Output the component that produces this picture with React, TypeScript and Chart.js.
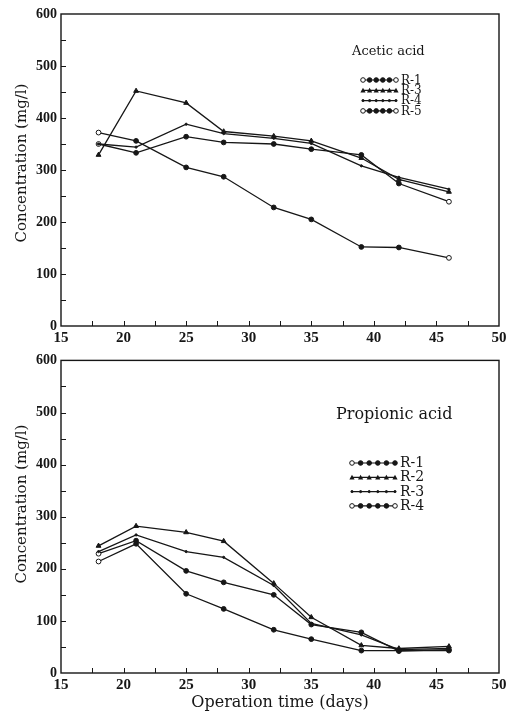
import React, { useEffect, useRef } from "react";
import { Chart, registerables } from "chart.js";
Chart.register(...registerables);

// ---- data ----
const days = [18, 21, 25, 28, 32, 35, 39, 42, 46];

const aceticTitle = "Acetic acid";
const aceticNames = ["R-1", "R-3", "R-4", "R-5"];
const aceticR1 = [372, 356, 305, 287, 228, 205, 152, 151, 131];
const aceticR3 = [329, 452, 429, 374, 365, 356, 323, 282, 258];
const aceticR4 = [350, 344, 388, 370, 361, 351, 308, 286, 263];
const aceticR5 = [350, 333, 364, 353, 350, 340, 329, 274, 239];

const propTitle = "Propionic acid";
const propNames = ["R-1", "R-2", "R-3", "R-4"];
const propR1 = [214, 248, 152, 123, 83, 65, 43, 43, 43];
const propR2 = [244, 282, 270, 253, 172, 107, 53, 47, 51];
const propR3 = [233, 265, 233, 222, 168, 95, 73, 45, 47];
const propR4 = [229, 254, 196, 174, 150, 93, 78, 42, 45];

const xMin = 15, xMax = 50, xStep = 5, xMinorStep = 2.5;
const yMin = 0, yMax = 600, yStep = 100, yMinorStep = 50;
const yTitle = "Concentration (mg/l)";
const xTitle = "Operation time (days)";

type Kind = "openEnds" | "openStart" | "triangle" | "dot";
const aceticKinds: Kind[] = ["openEnds", "triangle", "dot", "openEnds"];
const propKinds: Kind[] = ["openStart", "triangle", "dot", "openEnds"];

const INK = "#161616";

function drawMarker(ctx: CanvasRenderingContext2D, x: number, y: number, kind: Kind, open: boolean) {
  ctx.beginPath();
  if (kind === "triangle") {
    const r = 2.6;
    ctx.moveTo(x, y - r);
    ctx.lineTo(x + r, y + r * 0.8);
    ctx.lineTo(x - r, y + r * 0.8);
    ctx.closePath();
    ctx.fillStyle = INK;
    ctx.fill();
    return;
  }
  const r = kind === "dot" ? 1.1 : 2.3;
  ctx.arc(x, y, r, 0, Math.PI * 2);
  ctx.fillStyle = open ? "#fff" : INK;
  ctx.fill();
  ctx.lineWidth = 1;
  ctx.strokeStyle = INK;
  ctx.stroke();
}

const decorPlugin = {
  id: "decor",
  afterDraw(chart: any, _args: any, opts: any) {
    const { ctx, chartArea: a, scales } = chart;
    const xs = scales.x, ys = scales.y;
    ctx.save();
    ctx.strokeStyle = INK;
    ctx.lineWidth = 1.4;
    ctx.strokeRect(a.left, a.top, a.right - a.left, a.bottom - a.top);
    ctx.lineWidth = 1;
    ctx.beginPath();
    for (let v = xMin + xMinorStep; v < xMax; v += xMinorStep) {
      const px = Math.round(xs.getPixelForValue(v)) + 0.5;
      ctx.moveTo(px, a.bottom);
      ctx.lineTo(px, a.bottom - 5);
    }
    for (let v = yMin + yMinorStep; v < yMax; v += yMinorStep) {
      const py = Math.round(ys.getPixelForValue(v)) + 0.5;
      ctx.moveTo(a.left, py);
      ctx.lineTo(a.left + 5, py);
    }
    ctx.stroke();

    // y-axis title
    ctx.save();
    ctx.translate(opts.yTitleX, opts.yTitleY);
    ctx.rotate(-Math.PI / 2);
    ctx.fillStyle = INK;
    ctx.font = "15px 'DejaVu Serif', serif";
    ctx.textAlign = "center";
    ctx.textBaseline = "middle";
    ctx.fillText(yTitle, 0, 0);
    ctx.restore();

    // panel title
    ctx.fillStyle = INK;
    ctx.font = opts.titleFont;
    ctx.textAlign = "left";
    ctx.textBaseline = "middle";
    ctx.fillText(opts.title, opts.titleX, opts.titleY);

    // legend
    const names: string[] = opts.names;
    const kinds: Kind[] = opts.kinds;
    ctx.font = opts.legendFont;
    names.forEach((name, i) => {
      const y = opts.legendY + i * opts.legendGap;
      const x0 = opts.legendX, x1 = opts.legendX + opts.legendLen;
      ctx.beginPath();
      ctx.lineWidth = 1.2;
      ctx.strokeStyle = INK;
      ctx.moveTo(x0, y);
      ctx.lineTo(x1, y);
      ctx.stroke();
      const n = 6;
      for (let k = 0; k < n; k++) {
        const mx = x0 + (k * (x1 - x0)) / (n - 1);
        const k0 = kinds[i];
        const open =
          (k0 === "openEnds" && (k === 0 || k === n - 1)) || (k0 === "openStart" && k === 0);
        drawMarker(ctx, mx, y, k0, open);
      }
      ctx.fillStyle = INK;
      ctx.textAlign = "left";
      ctx.fillText(name, x1 + 5, y + 0.5);
    });
    ctx.restore();
  },
};

function makeDataset(label: string, values: number[], kind: Kind) {
  return {
    label,
    data: days.map((d, i) => ({ x: d, y: values[i] })),
    borderColor: INK,
    borderWidth: 1.3,
    pointStyle: kind === "triangle" ? "triangle" : "circle",
    pointRadius: kind === "dot" ? 1.1 : kind === "triangle" ? 2.8 : 2.4,
    pointBorderWidth: 1,
    pointBorderColor: INK,
    pointBackgroundColor: (c: any) => {
      const i = c.dataIndex;
      const last = days.length - 1;
      if (kind === "openEnds" && (i === 0 || i === last)) return "#fff";
      if (kind === "openStart" && i === 0) return "#fff";
      return INK;
    },
    tension: 0,
    fill: false,
  };
}

function buildOptions(opts: {
  padTop: number;
  xAxisHeight: number;
  showXTitle: boolean;
  decor: any;
}) {
  return {
    responsive: false,
    animation: false as const,
    layout: { padding: { left: 6, right: 8, top: opts.padTop, bottom: 0 } },
    plugins: {
      legend: { display: false },
      tooltip: { enabled: false },
      decor: opts.decor,
    },
    scales: {
      x: {
        type: "linear" as const,
        min: xMin,
        max: xMax,
        afterFit: (s: any) => {
          s.height = opts.xAxisHeight;
          s.paddingRight = 0;
          s.paddingLeft = 0;
        },
        ticks: {
          stepSize: xStep,
          color: INK,
          padding: 3,
          maxRotation: 0,
          font: { family: "'Liberation Serif', serif", size: 15, weight: "bold" as const },
        },
        grid: { display: false, drawTicks: false },
        border: { display: false },
        title: {
          display: opts.showXTitle,
          text: xTitle,
          color: INK,
          padding: { top: 0, bottom: 3 },
          font: { family: "'DejaVu Serif', serif", size: 16 },
        },
      },
      y: {
        min: yMin,
        max: yMax,
        afterFit: (s: any) => {
          s.width = 55;
        },
        ticks: {
          stepSize: yStep,
          color: INK,
          padding: 4,
          font: { family: "'Liberation Serif', serif", size: 14, weight: "bold" as const },
        },
        grid: { display: false, drawTicks: false },
        border: { display: false },
        title: { display: false, text: yTitle },
      },
    },
  };
}

function Panel(props: {
  width: number;
  height: number;
  datasets: any[];
  options: any;
}) {
  const ref = useRef<HTMLCanvasElement | null>(null);
  useEffect(() => {
    if (!ref.current) return;
    const chart = new Chart(ref.current, {
      type: "line",
      data: { datasets: props.datasets },
      options: props.options,
      plugins: [decorPlugin],
    } as any);
    return () => chart.destroy();
  }, []);
  return (
    <canvas
      ref={ref}
      width={props.width}
      height={props.height}
      style={{ display: "block", width: props.width, height: props.height }}
    />
  );
}

export default function App() {
  const aceticSets = [
    makeDataset(aceticNames[0], aceticR1, aceticKinds[0]),
    makeDataset(aceticNames[1], aceticR3, aceticKinds[1]),
    makeDataset(aceticNames[2], aceticR4, aceticKinds[2]),
    makeDataset(aceticNames[3], aceticR5, aceticKinds[3]),
  ];
  const propSets = [
    makeDataset(propNames[0], propR1, propKinds[0]),
    makeDataset(propNames[1], propR2, propKinds[1]),
    makeDataset(propNames[2], propR3, propKinds[2]),
    makeDataset(propNames[3], propR4, propKinds[3]),
  ];
  const topOptions = buildOptions({
    padTop: 14,
    xAxisHeight: 22,
    showXTitle: false,
    decor: {
      yTitleX: 22,
      yTitleY: 163,
      title: aceticTitle,
      titleX: 352,
      titleY: 52,
      titleFont: "13px 'DejaVu Serif', serif",
      names: aceticNames,
      kinds: aceticKinds,
      legendX: 363,
      legendY: 80,
      legendLen: 33,
      legendGap: 10.3,
      legendFont: "12px 'DejaVu Serif', serif",
    },
  });
  const bottomOptions = buildOptions({
    padTop: 12,
    xAxisHeight: 42,
    showXTitle: true,
    decor: {
      yTitleX: 22,
      yTitleY: 156,
      title: propTitle,
      titleX: 336,
      titleY: 67,
      titleFont: "16px 'DejaVu Serif', serif",
      names: propNames,
      kinds: propKinds,
      legendX: 352,
      legendY: 115,
      legendLen: 43,
      legendGap: 14.3,
      legendFont: "14px 'DejaVu Serif', serif",
    },
  });
  return (
    <div style={{ position: "absolute", left: 0, top: 0, width: 507, height: 715, background: "#fff" }}>
      <Panel width={507} height={348} datasets={aceticSets} options={topOptions} />
      <Panel width={507} height={367} datasets={propSets} options={bottomOptions} />
    </div>
  );
}
